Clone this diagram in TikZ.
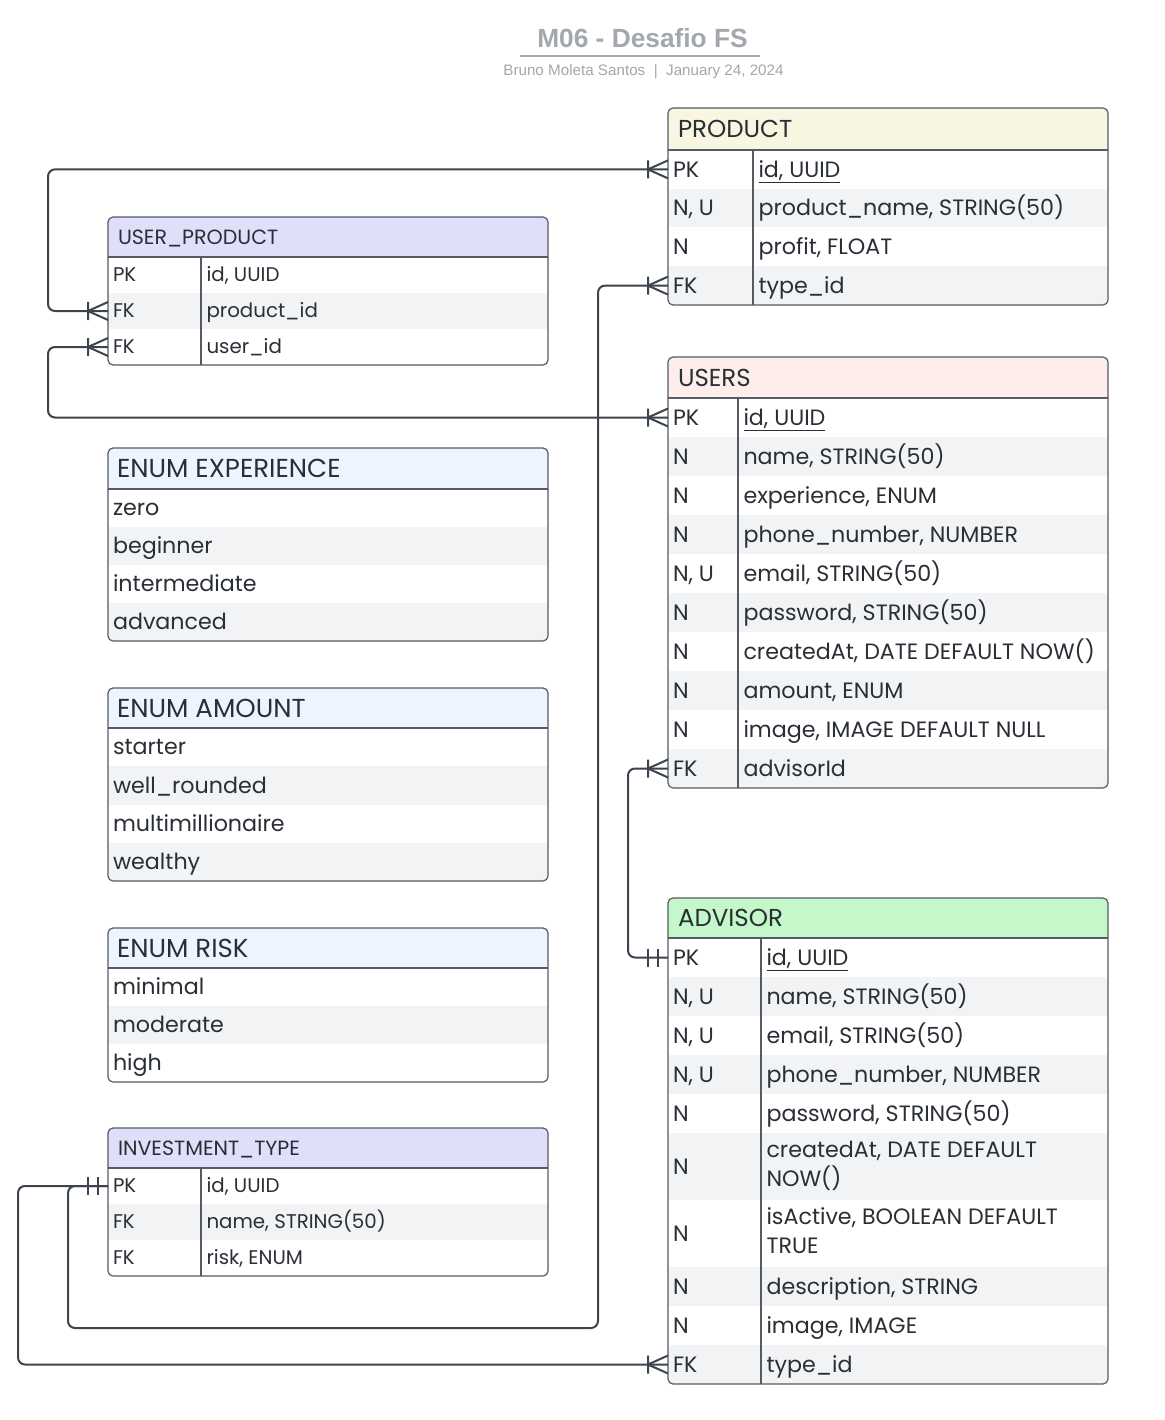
\documentclass[tikz,border=0pt]{standalone}
\usepackage{fontspec}
\setmainfont{Liberation Sans}
\newfontfamily\erfont{Poppins}
\usetikzlibrary{calc}

\definecolor{ink}{HTML}{2A2F36}
\definecolor{tableedge}{HTML}{565B63}
\definecolor{wire}{HTML}{3D444E}
\definecolor{stripe}{HTML}{F2F3F5}
\definecolor{hdrprod}{HTML}{F8F5E1}
\definecolor{hdrusers}{HTML}{FDEEEB}
\definecolor{hdradv}{HTML}{C4F7C9}
\definecolor{hdrlink}{HTML}{DFDFFA}
\definecolor{hdrenum}{HTML}{EEF4FD}
\definecolor{titlegray}{HTML}{A3A7AE}

% strut that centres capitals on the node's vertical middle
\newcommand{\erstrut}{\rule[-0.25em]{0pt}{1.2em}}

% entity table: name, left, right, top, header bottom, bottom, column divider, title, rows (top/bottom/key/field)
\newcommand{\ertable}[9]{%
  \begin{scope}
    \clip[rounded corners=5] (#2,#4) rectangle (#3,#6);
    \node[cellbox, hdr, minimum width=#3-#2, minimum height=#5-#4] (#1-head) at ({(#2+#3)/2},{(#4+#5)/2}) {};
    \foreach \ya/\yb/\k/\f [count=\i] in {#9} {
      \ifodd\i\relax\def\rowfill{white}\else\def\rowfill{stripe}\fi
      \node[cellbox, fill=\rowfill, minimum width=#3-#2, minimum height=\yb-\ya] (#1-r\i) at ({(#2+#3)/2},{(\ya+\yb)/2}) {};
    }
  \end{scope}
  \draw[tableedge, line width=1.2, rounded corners=5] (#2,#4) rectangle (#3,#6);
  \draw[tableedge, line width=1.2] (#2,#5) -- (#3,#5);
  \draw[tableedge, line width=1.2] (#7,#5) -- (#7,#6);
  \node[hdrtext] (#1-title) at (#2+10,{(#4+#5)/2}) {#8};
  \foreach \ya/\yb/\k/\f [count=\i] in {#9} {
    \node[celltext] (#1-k\i) at (#2+5,{(\ya+\yb)/2}) {\k};
    \node[celltext] (#1-f\i) at (#7+5.5,{(\ya+\yb)/2}) {\f};
  }
}

% enumeration table: name, left, right, top, header bottom, bottom, title, rows (top/bottom/value)
\newcommand{\erenum}[8]{%
  \begin{scope}
    \clip[rounded corners=5] (#2,#4) rectangle (#3,#6);
    \node[cellbox, hdr, minimum width=#3-#2, minimum height=#5-#4] (#1-head) at ({(#2+#3)/2},{(#4+#5)/2}) {};
    \foreach \ya/\yb/\v [count=\i] in {#8} {
      \ifodd\i\relax\def\rowfill{white}\else\def\rowfill{stripe}\fi
      \node[cellbox, fill=\rowfill, minimum width=#3-#2, minimum height=\yb-\ya] (#1-r\i) at ({(#2+#3)/2},{(\ya+\yb)/2}) {};
    }
  \end{scope}
  \draw[tableedge, line width=1.2, rounded corners=5] (#2,#4) rectangle (#3,#6);
  \draw[tableedge, line width=1.2] (#2,#5) -- (#3,#5);
  \node[enumhdr] (#1-title) at (#2+9,{(#4+#5)/2}) {#7};
  \foreach \ya/\yb/\v [count=\i] in {#8} {
    \node[celltext] (#1-v\i) at (#2+5,{(\ya+\yb)/2}) {\v};
  }
}

\tikzset{
  cellbox/.style={shape=rectangle, inner sep=0, outer sep=0, draw=none},
  hdr/.style={fill=white},
  txt/.style={anchor=west, inner sep=0, outer sep=0, text=ink, align=left, execute at begin node=\erstrut},
  enumhdr/.style={txt, font=\erfont\fontsize{26}{30}\selectfont},
  er big/.style={
    hdrtext/.style={txt, font=\erfont\fontsize{24.5}{29}\selectfont},
    celltext/.style={txt, font=\erfont\fontsize{22.2}{29}\selectfont}},
  er small/.style={
    hdrtext/.style={txt, font=\erfont\fontsize{20.6}{26}\selectfont},
    celltext/.style={txt, font=\erfont\fontsize{19.8}{26}\selectfont}},
  wire/.style={draw=wire, line width=2, rounded corners=7},
  crowfoot/.pic={\draw[draw=wire, line width=2, sharp corners] (-20,-9) -- (-20,9) (0,-9) -- (-20,0) -- (0,9);},
  onlyone/.pic={\draw[draw=wire, line width=2] (-20,-9) -- (-20,9) (-10,-9) -- (-10,9);},
}

\begin{document}
\begin{tikzpicture}[x=1pt, y=-1pt]
\useasboundingbox (0,0) rectangle (1164,1420);
\fill[white] (0,0) rectangle (1164,1420);

% heading
\node[text=titlegray, font=\bfseries\fontsize{26.3}{30}\selectfont, inner sep=0] (title) at (642.5,38) {M06 - Desafio FS};
\draw[titlegray, line width=2] (520,56) -- (760,56);
\node[text=titlegray, font=\fontsize{15.2}{17}\selectfont, inner sep=0] (byline) at (643.5,72) {Bruno Moleta Santos \ |\ \ January 24, 2024};

% right column
\begin{scope}[er big, hdr/.style={fill=hdrprod}]
\ertable{prod}{668}{1108}{108}{150}{305}{753}{PRODUCT}{
  150/188.75/PK/{\underline{id, UUID}},
  188.75/227.5/{N, U}/{product\_name, STRING(50)},
  227.5/266.25/N/{profit, FLOAT},
  266.25/305/FK/{type\_id}}
\end{scope}

\begin{scope}[er big, hdr/.style={fill=hdrusers}]
\ertable{users}{668}{1108}{357}{398}{788}{738}{USERS}{
  398/437/PK/{\underline{id, UUID}},
  437/476/N/{name, STRING(50)},
  476/515/N/{experience, ENUM},
  515/554/N/{phone\_number, NUMBER},
  554/593/{N, U}/{email, STRING(50)},
  593/632/N/{password, STRING(50)},
  632/671/N/{createdAt, DATE DEFAULT NOW()},
  671/710/N/{amount, ENUM},
  710/749/N/{image, IMAGE DEFAULT NULL},
  749/788/FK/{advisorId}}
\end{scope}

\begin{scope}[er big, hdr/.style={fill=hdradv}]
\ertable{adv}{668}{1108}{898}{938}{1384}{761}{ADVISOR}{
  938/977/PK/{\underline{id, UUID}},
  977/1016/{N, U}/{name, STRING(50)},
  1016/1055/{N, U}/{email, STRING(50)},
  1055/1094/{N, U}/{phone\_number, NUMBER},
  1094/1133/N/{password, STRING(50)},
  1133/1200/N/{createdAt, DATE DEFAULT\\\erstrut NOW()},
  1200/1267/N/{isActive, BOOLEAN DEFAULT\\\erstrut TRUE},
  1267/1306/N/{description, STRING},
  1306/1345/N/{image, IMAGE},
  1345/1384/FK/{type\_id}}
\end{scope}

% left column
\begin{scope}[er small, hdr/.style={fill=hdrlink}]
\ertable{up}{108}{548}{217}{257}{365}{201}{USER\_PRODUCT}{
  257/293/PK/{id, UUID},
  293/329/FK/{product\_id},
  329/365/FK/{user\_id}}
\ertable{it}{108}{548}{1128}{1168}{1276}{201}{INVESTMENT\_TYPE}{
  1168/1204/PK/{id, UUID},
  1204/1240/FK/{name, STRING(50)},
  1240/1276/FK/{risk, ENUM}}
\end{scope}

\begin{scope}[er big, hdr/.style={fill=hdrenum}]
\erenum{exp}{108}{548}{448}{489}{641}{ENUM EXPERIENCE}{
  489/527/zero, 527/565/beginner, 565/603/intermediate, 603/641/advanced}
\erenum{amt}{108}{548}{688}{728}{881}{ENUM AMOUNT}{
  728/766/starter, 766/804.5/well\_rounded, 804.5/843/multimillionaire, 843/881/wealthy}
\erenum{risk}{108}{548}{928}{968}{1082}{ENUM RISK}{
  968/1006/minimal, 1006/1044/moderate, 1044/1082/high}
\end{scope}

% relationships
\draw[wire] (prod-r1.west) -- ++(-620,0) |- (up-r2.west);
\draw[wire] (up-r3.west) -- ++(-60,0) |- (users-r1.west);
\draw[wire] (prod-r4.west) -- ++(-70,0) |- (68,1328) |- (it-r1.west);
\draw[wire] (users-r10.west) -- ++(-40,0) |- (adv-r1.west);
\draw[wire] (adv-r10.west) -- ++(-650,0) |- (it-r1.west);

\pic at (prod-r1.west) {crowfoot};
\pic at (up-r2.west) {crowfoot};
\pic at (up-r3.west) {crowfoot};
\pic at (users-r1.west) {crowfoot};
\pic at (prod-r4.west) {crowfoot};
\pic at (users-r10.west) {crowfoot};
\pic at (adv-r10.west) {crowfoot};
\pic at (adv-r1.west) {onlyone};
\pic at (it-r1.west) {onlyone};
\end{tikzpicture}
\end{document}
